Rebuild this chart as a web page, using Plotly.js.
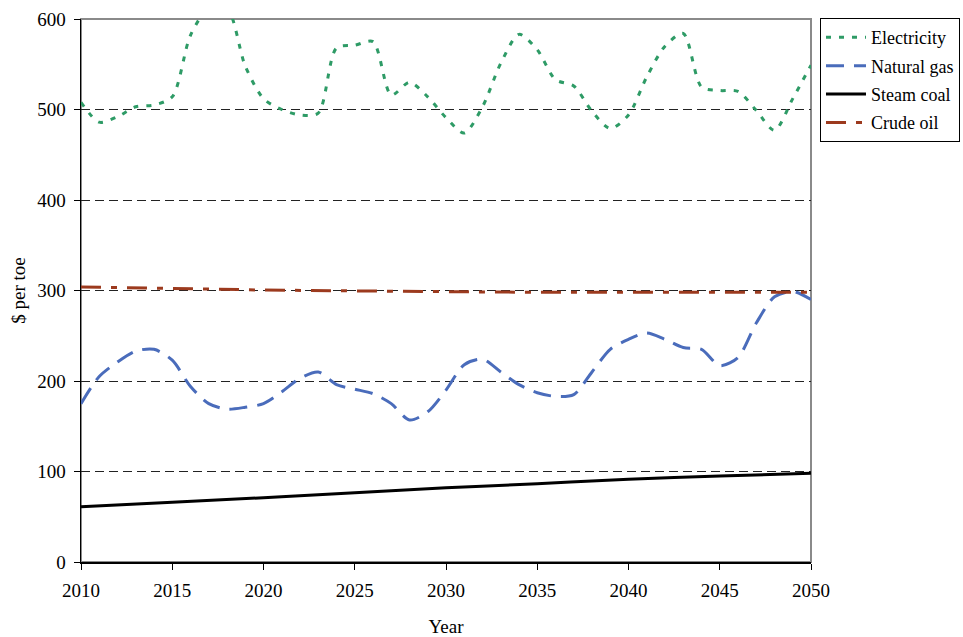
<!DOCTYPE html>
<html>
<head>
<meta charset="utf-8">
<script src="https://cdn.plot.ly/plotly-3.0.1.min.js"></script>
<style>html,body{margin:0;padding:0;background:#fff;}#chart{width:963px;height:637px;}</style>
</head>
<body>
<div id="chart"></div>
<script>
const years = [2010,2011,2012,2013,2014,2015,2016,2017,2018,2019,2020,2021,2022,2023,2024,2025,2026,2027,2028,2029,2030,2031,2032,2033,2034,2035,2036,2037,2038,2039,2040,2041,2042,2043,2044,2045,2046,2047,2048,2049,2050];
const electricity = [508,486,492,503,505,514,582,612,612,548,512,500,494,496,568,571,575,516,530,514,491,474,503,551,583,566,533,526,498,479,494,536,570,584,525,521,520,499,477,512,549];
const naturalGas = [175,205,221,233,235,223,194,175,169,171,175,188,203,210,196,191,186,175,157,166,190,218,224,210,196,187,183,185,210,235,246,253,246,237,235,217,226,264,293,299,290];
const yearsFive = [2010,2015,2020,2025,2030,2035,2040,2045,2050];
const steamCoal = [61,66,71,76.5,82,86.5,91.5,95,98];
const crudeOil = [304,302,300.5,299.5,298.5,298,298,298,298];
const seriesNames = ['Electricity','Natural gas','Steam coal','Crude oil'];
const xTicks = [2010,2015,2020,2025,2030,2035,2040,2045,2050];
const yTicks = [0,100,200,300,400,500,600];

const FONT = 'Times New Roman, Liberation Serif, DejaVu Serif, serif';

const traces = [
  {x: years, y: electricity, name: seriesNames[0], mode: 'lines', legendgroup: 'a',
   line: {color: '#2E9B66', width: 3, dash: '5px,8px', shape: 'spline', smoothing: 0.8}},
  {x: years, y: naturalGas, name: seriesNames[1], mode: 'lines', legendgroup: 'b',
   line: {color: '#4A6CBB', width: 3, dash: '18px,10px', shape: 'spline', smoothing: 0.8}},
  {x: yearsFive, y: steamCoal, name: seriesNames[2], mode: 'lines', legendgroup: 'c',
   line: {color: '#000000', width: 3, shape: 'spline'}},
  {x: yearsFive, y: crudeOil, name: seriesNames[3], mode: 'lines', legendgroup: 'd',
   line: {color: '#9C3A1E', width: 3, dash: '20px,10px,6px,10px'}}
];

const layout = {
  width: 963, height: 637,
  margin: {l: 81, r: 152, t: 19, b: 75},
  paper_bgcolor: '#ffffff', plot_bgcolor: '#ffffff',
  font: {family: FONT, size: 19, color: '#000'},
  showlegend: true,
  legend: {xref: 'container', yref: 'container', x: 0.8515, y: 0.9717, xanchor: 'left', yanchor: 'top',
    bordercolor: '#000', borderwidth: 1, bgcolor: '#fff',
    font: {family: FONT, size: 18, color: '#000'},
    tracegroupgap: 2, itemwidth: 40},
  xaxis: {range: [2010, 2050], tickvals: xTicks, ticktext: xTicks.map(String),
    ticks: 'outside', ticklen: 6, tickcolor: '#000', tickwidth: 1,
    showline: true, linecolor: '#000', linewidth: 1.5, showgrid: false, zeroline: false,
    ticklabelstandoff: 5, automargin: false,
    tickfont: {family: FONT, size: 19},
    title: {text: 'Year', font: {family: FONT, size: 19}, standoff: 19}},
  yaxis: {range: [0, 600], tickvals: yTicks, ticktext: yTicks.map(String),
    ticks: 'outside', ticklen: 6, tickcolor: '#000', tickwidth: 1,
    showline: true, linecolor: '#000', linewidth: 1.5, zeroline: false, automargin: false,
    showgrid: true, gridcolor: '#222', gridwidth: 1, griddash: '9px,5px',
    ticklabelstandoff: 4,
    tickfont: {family: FONT, size: 19},
    title: {text: '$ per toe', font: {family: FONT, size: 19}, standoff: 6}},
  shapes: [{type: 'rect', xref: 'paper', yref: 'paper', x0: 0, x1: 1, y0: 0, y1: 1,
    line: {color: '#8a8a8a', width: 2}, layer: 'below'}]
};

Plotly.newPlot('chart', traces, layout, {displayModeBar: false, staticPlot: true});
</script>
</body>
</html>
